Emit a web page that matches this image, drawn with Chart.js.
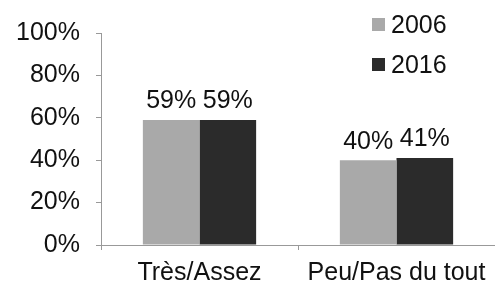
<!DOCTYPE html>
<html>
<head>
<meta charset="utf-8">
<script src="https://cdn.jsdelivr.net/npm/chart.js@4"></script>
<style>
  html, body { margin: 0; padding: 0; background: #fff; }
  #wrap { width: 495px; height: 289px; }
</style>
</head>
<body>
<div id="wrap"><canvas id="chart" width="495" height="289"></canvas></div>
<script>
const categories = ["Très/Assez", "Peu/Pas du tout"]
const seriesNames = ["2006", "2016"]
const values2006 = [59, 40]
const values2016 = [59, 41]
const yTicks = [0, 20, 40, 60, 80, 100]

const FONT = "'Liberation Sans', Arial, sans-serif"
const colors = ["#a9a9a9", "#2b2b2b"]

// value labels above each bar
const barLabels = {
  id: "barLabels",
  afterDatasetsDraw(chart) {
    const ctx = chart.ctx
    ctx.save()
    ctx.font = "25px " + FONT
    ctx.fillStyle = "#111"
    ctx.textAlign = "center"
    ctx.textBaseline = "bottom"
    chart.data.datasets.forEach((ds, i) => {
      chart.getDatasetMeta(i).data.forEach((bar, j) => {
        ctx.fillText(ds.data[j] + "%", bar.x, bar.y - 6)
      })
    })
    ctx.restore()
  }
}

// legend in the top right corner, stacked
const cornerLegend = {
  id: "cornerLegend",
  afterDraw(chart) {
    const ctx = chart.ctx
    ctx.save()
    ctx.font = "25px " + FONT
    ctx.textBaseline = "middle"
    chart.data.datasets.forEach((ds, i) => {
      const y = 25 + i * 40
      ctx.fillStyle = ds.backgroundColor
      ctx.fillRect(372, y - 7, 13, 13)
      ctx.fillStyle = "#111"
      ctx.fillText(ds.label, 391, y + 1)
    })
    ctx.restore()
  }
}

new Chart(document.getElementById("chart").getContext("2d"), {
  type: "bar",
  data: {
    labels: categories,
    datasets: [
      { label: seriesNames[0], data: values2006, backgroundColor: colors[0] },
      { label: seriesNames[1], data: values2016, backgroundColor: colors[1] }
    ]
  },
  options: {
    responsive: false,
    animation: false,
    layout: { padding: { top: 33, right: 0, bottom: 0, left: 0 } },
    datasets: { bar: { categoryPercentage: 0.575, barPercentage: 1.0 } },
    plugins: { legend: { display: false }, tooltip: { enabled: false } },
    scales: {
      x: {
        grid: { display: true, offset: true, drawOnChartArea: false, tickLength: 5, color: "#999" },
        border: { color: "#999" },
        ticks: { font: { family: FONT, size: 25 }, color: "#111", padding: 8 },
        afterFit(scale) { scale.height = 44 }
      },
      y: {
        min: 0,
        max: 100,
        afterBuildTicks(scale) { scale.ticks = yTicks.map(v => ({ value: v })) },
        grid: { display: true, drawOnChartArea: false, tickLength: 5, color: "#999" },
        border: { color: "#999" },
        ticks: {
          font: { family: FONT, size: 25 },
          color: "#111",
          padding: 16,
          callback: v => v + "%"
        },
        afterFit(scale) { scale.width = 101 }
      }
    }
  },
  plugins: [barLabels, cornerLegend]
})
</script>
</body>
</html>
